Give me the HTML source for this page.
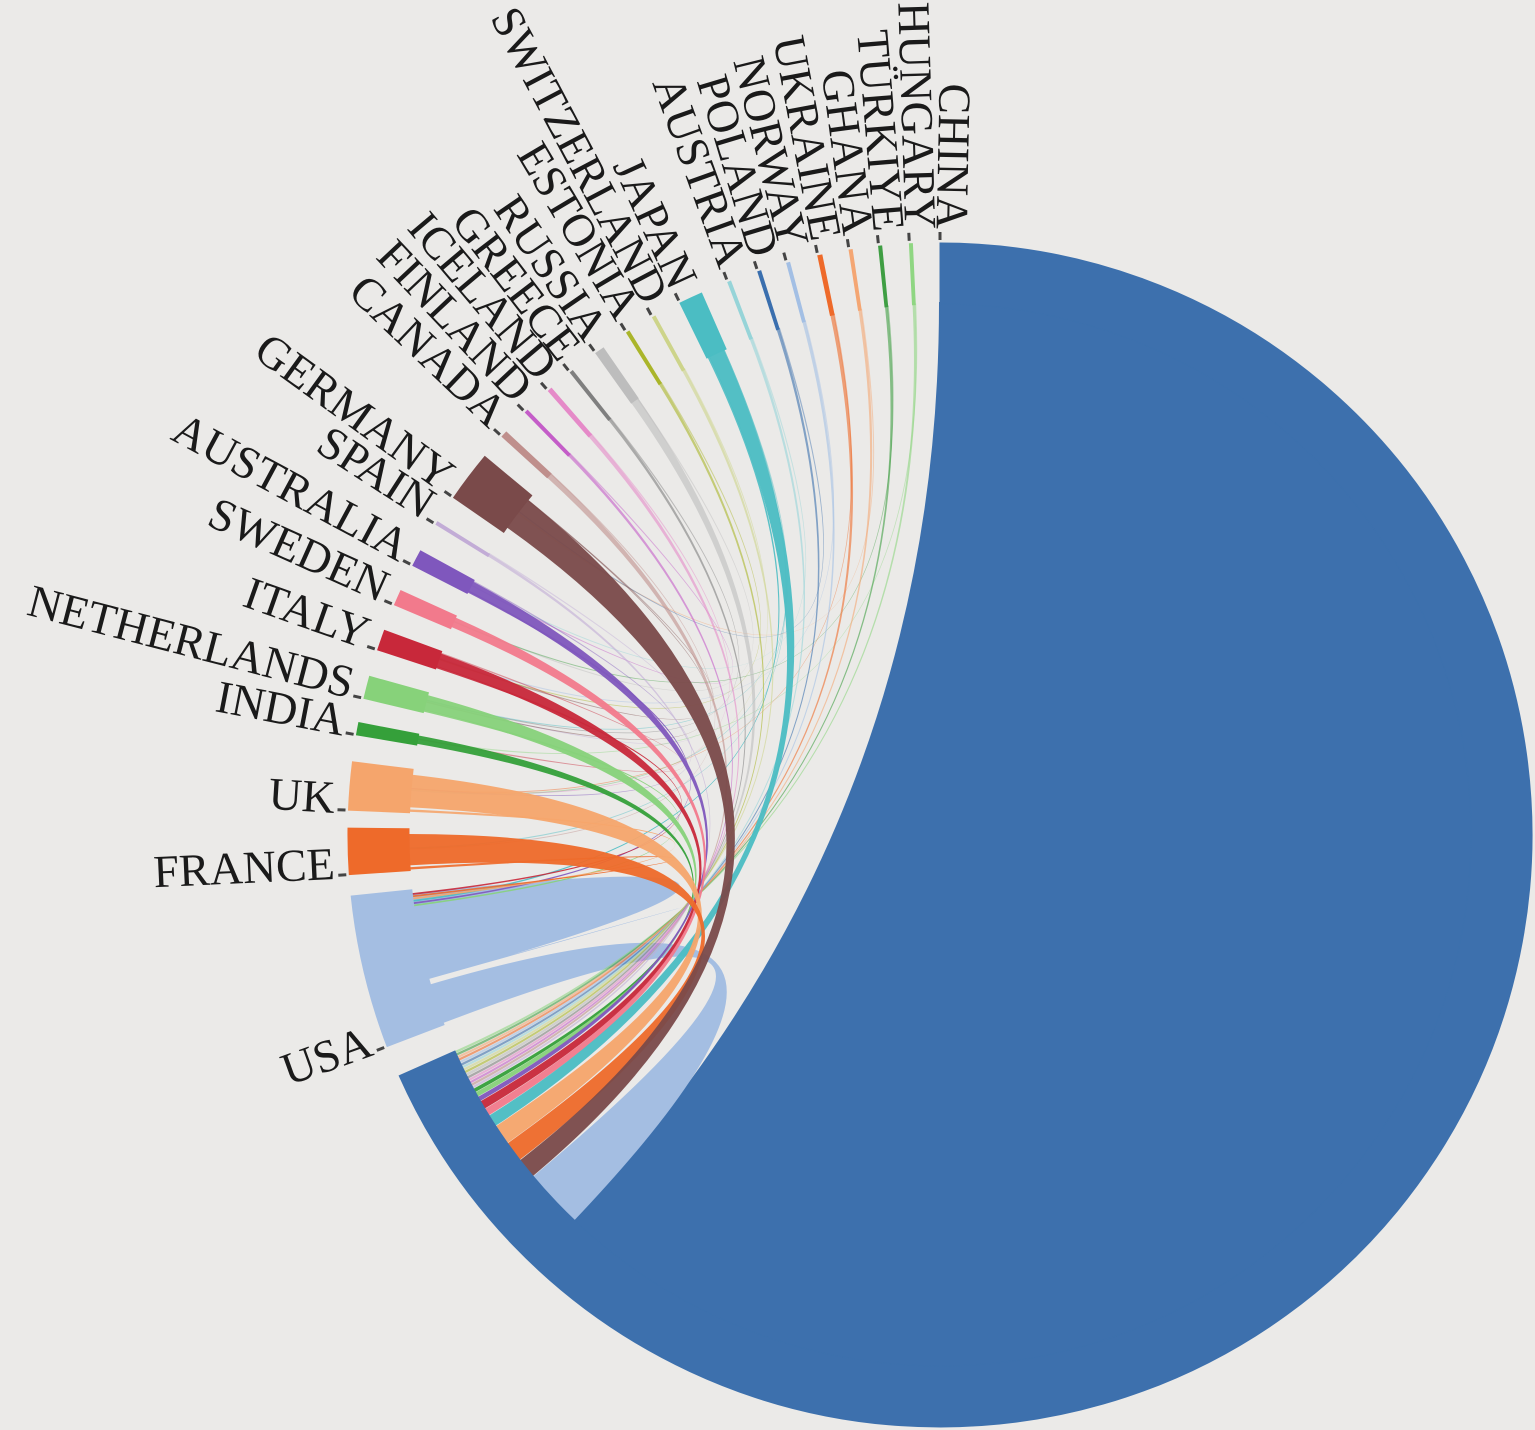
<!DOCTYPE html>
<html><head><meta charset="utf-8"><style>
html,body{margin:0;padding:0;background:#ebeae8;}
svg{display:block;}
text{font-family:"Liberation Serif",serif;font-size:46px;fill:#1a1a1a;}
</style></head><body>
<svg id="s" width="1535" height="1430" viewBox="0 0 1535 1430" xmlns="http://www.w3.org/2000/svg">
<rect width="1535" height="1430" fill="#ebeae8"/>
</svg>
<script>
const NS="http://www.w3.org/2000/svg",svg=document.getElementById('s');
const CX=940,CY=835,R=592,RI=532;
function pt(a,r){const t=a*Math.PI/180;return [CX+r*Math.sin(t),CY-r*Math.cos(t)];}
function ang(x,y){let a=Math.atan2(x-CX,-(y-CY))*180/Math.PI;return (a+360)%360;}
function f(p){return p[0].toFixed(1)+","+p[1].toFixed(1);}
function add(tag,attrs,txt){const e=document.createElementNS(NS,tag);for(const k in attrs)e.setAttribute(k,attrs[k]);if(txt)e.textContent=txt;svg.appendChild(e);return e;}
function arcPath(a0,a1,r1,r0){const lg=(a1-a0)>180?1:0;
 return "M"+f(pt(a0,r1))+"A"+r1+","+r1+" 0 "+lg+" 1 "+f(pt(a1,r1))+"L"+f(pt(a1,r0))+"A"+r0+","+r0+" 0 "+lg+" 0 "+f(pt(a0,r0))+"Z";}
function ribbon(s0,s1,t0,t1){const r=RI;const l1=(s1-s0)>180?1:0,l2=(t1-t0)>180?1:0;
 return "M"+f(pt(s0,r))+"A"+r+","+r+" 0 "+l1+" 1 "+f(pt(s1,r))+"Q"+CX+","+CY+" "+f(pt(t0,r))+"A"+r+","+r+" 0 "+l2+" 1 "+f(pt(t1,r))+"Q"+CX+","+CY+" "+f(pt(s0,r))+"Z";}
const G=[
["CHINA",940,235,246,"#3d70ad",0],
["USA",383,1048,15,"#a4bee2",0],
["FRANCE",343,875,4.5,"#ee6a2a",2.2],
["UK",345,810,4.7,"#f5a56c",2.2],
["INDIA",352,734,1.2,"#35a03a",0.4],
["NETHERLANDS",358,697,2.2,"#87d27a",0.5],
["ITALY",372,648,2.0,"#c8283a",0.9],
["SWEDEN",390,603,1.5,"#f27a8c",0.8],
["AUSTRALIA",408,563,1.6,"#7f57bd",0.5],
["SPAIN",432,522,0.3,"#c2acd6",0.25],
["GERMANY",447,493,5.0,"#7a4a4a",2.2],
["CANADA",497,432,0.6,"#bf8f8c",0.25],
["FINLAND",520,407,0.3,"#c45dc8",0.25],
["ICELAND",543,385,0.4,"#e58ac8",0.25],
["GREECE",565,366,0.3,"#7f7f7f",0.25],
["RUSSIA",592,348,0.9,"#bdbdbd",0.3],
["ESTONIA",623,327,0.3,"#aab52a",0.25],
["SWITZERLAND",650,313,0.3,"#cdd48a",0.25],
["JAPAN",677,297,2.3,"#4bbdc3",1.3],
["AUSTRIA",725,275,0.3,"#96d4d8",0.25],
["POLAND",755,263,0.3,"#3a6fae",0.25],
["NORWAY",785,257,0.3,"#a3bfe4",0.25],
["UKRAINE",816,247,0.4,"#ee6a2a",0.25],
["GHANA",848,243,0.3,"#f4a673",0.25],
["TÜRKIYE",878,240,0.3,"#3f9e43",0.25],
["HUNGARY",909,237,0.3,"#8fd682",0.25]];
const M={};
G.forEach(g=>{let a0=g[0]=="CHINA"?0:ang(g[1],g[2]);M[g[0]]={a0:a0,w:g[3],c:g[4],cw:g[5]};});
add("path",{d:"M"+f(pt(0,RI))+"A"+RI+","+RI+" 0 1 1 "+f(pt(223.5,RI))+"Q"+CX+","+CY+" "+f(pt(0,RI))+"Z",fill:"#3d70ad",stroke:"#3d70ad","stroke-width":2});
const U=M["USA"];
add("path",{d:ribbon(U.a0+5.2,U.a0+14.6,U.a0+5.2,U.a0+5.3),fill:"#a4bee2"});
add("path",{d:ribbon(U.a0+0.2,U.a0+4.6,223.5,230),fill:"#a4bee2"});
const X=[["JAPAN","UK"],["JAPAN","FRANCE"],["JAPAN","NETHERLANDS"],["GHANA","GERMANY"],["AUSTRIA","AUSTRALIA"],["NORWAY","ITALY"],["HUNGARY","INDIA"],["RUSSIA","SWEDEN"],["ICELAND","UK"],["CANADA","FRANCE"],["SPAIN","NETHERLANDS"],["UKRAINE","UK"],["ESTONIA","ITALY"],["FINLAND","AUSTRALIA"],["GREECE","NETHERLANDS"],["TÜRKIYE","SWEDEN"],["SWITZERLAND","UK"],["POLAND","GERMANY"],["GERMANY","NETHERLANDS"],["GERMANY","ITALY"],["AUSTRALIA","UK"],["ITALY","INDIA"]];
X.forEach((p,i)=>{const a=M[p[0]],b=M[p[1]];const s=a.a0+a.w*0.85,t=b.a0+b.w*0.5+(i%3)*0.1;
 add("path",{d:ribbon(s,s+0.15,t,t+0.15),fill:a.c,opacity:0.45});});
["NETHERLANDS","AUSTRALIA","JAPAN","UK","FRANCE","ITALY"].forEach((n,i)=>{const a=M[n];const s=a.a0+0.1;
 add("path",{d:ribbon(s,s+0.25,U.a0+13.2+i*0.25,U.a0+13.4+i*0.25),fill:a.c,opacity:0.9});});
const order=["HUNGARY","TÜRKIYE","GHANA","UKRAINE","NORWAY","POLAND","AUSTRIA","SWITZERLAND","ESTONIA","RUSSIA","GREECE","ICELAND","FINLAND","CANADA","SPAIN","INDIA","NETHERLANDS","AUSTRALIA","ITALY","SWEDEN","JAPAN","UK","FRANCE","GERMANY"];
let p=246;
order.forEach(n=>{const g=M[n];const t1=p,t0=p-g.cw;p=t0-0.05;
 let sw=g.w>1?g.w*0.75:g.w;const s0=g.a0+(g.w-sw)/2;
 add("path",{d:ribbon(s0,s0+sw,t0,t1),fill:g.c,opacity:g.w>1?0.95:0.6});});
G.forEach(g=>{const m=M[g[0]];add("path",{d:arcPath(m.a0,m.a0+m.w,R,RI-1),fill:m.c,stroke:m.c,"stroke-width":1});});
G.forEach(g=>{const m=M[g[0]];const a=m.a0;
 add("path",{d:"M"+f(pt(a,595))+"L"+f(pt(a,603)),stroke:"#444","stroke-width":3});
 const la=a+1.2;
 add("text",{transform:"rotate("+(la-90)+","+CX+","+CY+") translate("+(CX+606)+","+CY+") rotate(180)","text-anchor":"end",dy:"0.35em"},g[0]);});
</script>
</body></html>
